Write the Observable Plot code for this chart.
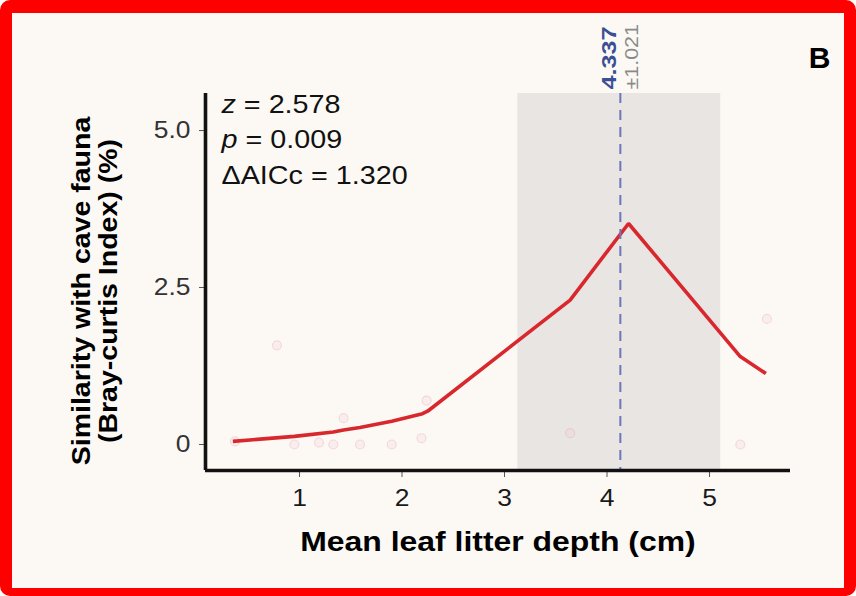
<!DOCTYPE html>
<html>
<head>
<meta charset="utf-8">
<script src="https://cdn.jsdelivr.net/npm/d3@7"></script>
<script src="https://cdn.jsdelivr.net/npm/@observablehq/plot@0.6"></script>
<style>
  html, body { margin: 0; padding: 0; background: #ffffff; }
  #panel {
    box-sizing: border-box;
    width: 856px; height: 596px;
    border: solid #ff0000;
    border-width: 13px 12px 8px 12px;
    border-radius: 10px;
    background: #fcf9f5;
    overflow: hidden;
    font-family: "Liberation Sans", Arial, sans-serif;
  }
  #panel svg { display: block; }
</style>
</head>
<body>
<div id="panel"></div>
<script>
// Fitted response of similarity to leaf litter depth
const fitDepth      = [0.35, 0.80, 0.95, 1.33, 1.43, 1.59, 1.90, 2.20, 2.25, 3.64, 4.21, 5.30, 5.55];
const fitSimilarity = [0.05, 0.11, 0.13, 0.20, 0.23, 0.27, 0.37, 0.49, 0.53, 2.30, 3.52, 1.40, 1.13];

// Observed sites
const obsDepth      = [0.37, 0.78, 0.95, 1.19, 1.33, 1.43, 1.59, 1.90, 2.19, 2.24, 3.64, 5.30, 5.56];
const obsSimilarity = [0.05, 1.58, 0.00, 0.03, 0.00, 0.42, 0.00, 0.00, 0.10, 0.70, 0.18, 0.00, 2.00];

// Optimum depth and its interval
const optimumDepth = 4.13;
const intervalLow  = 3.13;
const intervalHigh = 5.11;
const optimumLabel = "4.337";
const optimumError = "±1.021";

// Model statistics (italic symbol, remainder)
const statSymbols = ["z", "p", ""];
const statValues  = [" = 2.578", " = 0.009", "ΔAICc = 1.320"];

const xTicks = [1, 2, 3, 4, 5];
const yTicks = [0, 2.5, 5];
const xDomain = [0.083, 5.79];
const yDomain = [-0.414, 5.59];

const fitData = fitDepth.map((x, i) => ({x, y: fitSimilarity[i]}));
const obsData = obsDepth.map((x, i) => ({x, y: obsSimilarity[i]}));

const font = '"Liberation Sans", Arial, sans-serif';
const statSize = 25;

// horizontal widening applied to each group of labels (wide typeface look)
const widen = {
  "y tick labels": 1.1,
  "x tick labels": 1.1,
  "statistic": 1.15,
  "axis title": 1.14,
  "optimum": 1.2,
  "optimum error": 1.13
};

// width of the italic symbol so the remainder follows it
const ctx = document.createElement("canvas").getContext("2d");
ctx.font = `italic ${statSize}px ${font}`;
const symbolWidth = statSymbols.map(s => s ? ctx.measureText(s).width * widen.statistic : 0);

const statLeft = 16;
const statRows = [11, 46, 82];

const marks = [
  Plot.rect([{x1: intervalLow, x2: intervalHigh}], {
    x1: "x1", x2: "x2", y1: yDomain[0], y2: yDomain[1], fill: "#e9e5e3"
  }),
  Plot.dot(obsData, {
    x: "x", y: "y", r: 4.5,
    fill: "#f2c4cb", fillOpacity: 0.2,
    stroke: "#e59aa6", strokeOpacity: 0.3, strokeWidth: 1.2
  }),
  Plot.line(fitData, {
    x: "x", y: "y", stroke: "#d8282e", strokeWidth: 3.6,
    strokeLinejoin: "miter", strokeLinecap: "butt"
  }),
  Plot.ruleX([optimumDepth], {
    stroke: "#6d76b8", strokeWidth: 2, strokeDasharray: "10,7"
  }),
  // axes
  Plot.axisY(yTicks, {
    tickFormat: d => d === 0 ? "0" : d.toFixed(1),
    fontSize: 24, tickSize: 6, tickPadding: 9,
    stroke: "#555", fill: "#333", label: null,
    ariaDescription: "y tick labels"
  }),
  Plot.axisX(xTicks, {
    tickFormat: d => String(d),
    fontSize: 24, tickSize: 7, tickPadding: 11,
    stroke: "#555", fill: "#1a1a1a", label: null,
    ariaDescription: "x tick labels"
  }),
  Plot.ruleX([xDomain[0]], {stroke: "#111", strokeWidth: 3.6}),
  Plot.ruleY([yDomain[0]], {stroke: "#111", strokeWidth: 3.6}),
  // model statistics
  ...statSymbols.map((s, i) => Plot.text([s], {
    text: d => d, frameAnchor: "top-left", textAnchor: "start", lineAnchor: "middle",
    dx: statLeft, dy: statRows[i], fontSize: statSize, fontStyle: "italic", fill: "#111",
    ariaDescription: "statistic"
  })),
  ...statValues.map((s, i) => Plot.text([s], {
    text: d => d, frameAnchor: "top-left", textAnchor: "start", lineAnchor: "middle",
    dx: statLeft + symbolWidth[i], dy: statRows[i], fontSize: statSize, fill: "#111",
    ariaDescription: "statistic"
  })),
  // optimum annotation
  Plot.text([optimumLabel], {
    x: optimumDepth, y: yDomain[1], text: d => d, rotate: -90,
    textAnchor: "start", lineAnchor: "middle", dx: -11, dy: -4,
    fontSize: 21, fontWeight: "bold", fill: "#3b4f94", ariaDescription: "optimum"
  }),
  Plot.text([optimumError], {
    x: optimumDepth, y: yDomain[1], text: d => d, rotate: -90,
    textAnchor: "start", lineAnchor: "middle", dx: 12, dy: -4,
    fontSize: 19, fill: "#8a8a8a", ariaDescription: "optimum error"
  }),
  // panel letter
  Plot.text(["B"], {
    text: d => d, frameAnchor: "top-right", textAnchor: "middle", lineAnchor: "middle",
    dx: 29, dy: -35, fontSize: 30, fontWeight: "bold", fill: "#000"
  }),
  // axis titles
  Plot.text(["Mean leaf litter depth (cm)"], {
    text: d => d, frameAnchor: "bottom", textAnchor: "middle", lineAnchor: "middle",
    dy: 72, fontSize: 28, fontWeight: "bold", fill: "#000", ariaDescription: "axis title"
  }),
  Plot.text(["Similarity with cave fauna"], {
    text: d => d, frameAnchor: "left", textAnchor: "middle", lineAnchor: "middle",
    rotate: -90, dx: -124, dy: 9, fontSize: 25, fontWeight: "bold", fill: "#000",
    ariaDescription: "axis title"
  }),
  Plot.text(["(Bray-curtis Index) (%)"], {
    text: d => d, frameAnchor: "left", textAnchor: "middle", lineAnchor: "middle",
    rotate: -90, dx: -97, dy: 9, fontSize: 25, fontWeight: "bold", fill: "#000",
    ariaDescription: "axis title"
  })
];

const chart = Plot.plot({
  width: 832,
  height: 575,
  marginLeft: 193,
  marginRight: 54,
  marginTop: 80,
  marginBottom: 118,
  x: {domain: xDomain},
  y: {domain: yDomain},
  style: {background: "transparent", fontFamily: font, overflow: "visible"},
  marks
});

document.getElementById("panel").appendChild(chart);

// widen label groups along their reading direction
for (const [label, k] of Object.entries(widen)) {
  chart.querySelectorAll(`g[aria-description="${label}"] text`).forEach(t => {
    const len = t.getComputedTextLength();
    if (len > 0) {
      t.setAttribute("textLength", (len * k).toFixed(1));
      t.setAttribute("lengthAdjust", "spacingAndGlyphs");
    }
  });
}
</script>
</body>
</html>
